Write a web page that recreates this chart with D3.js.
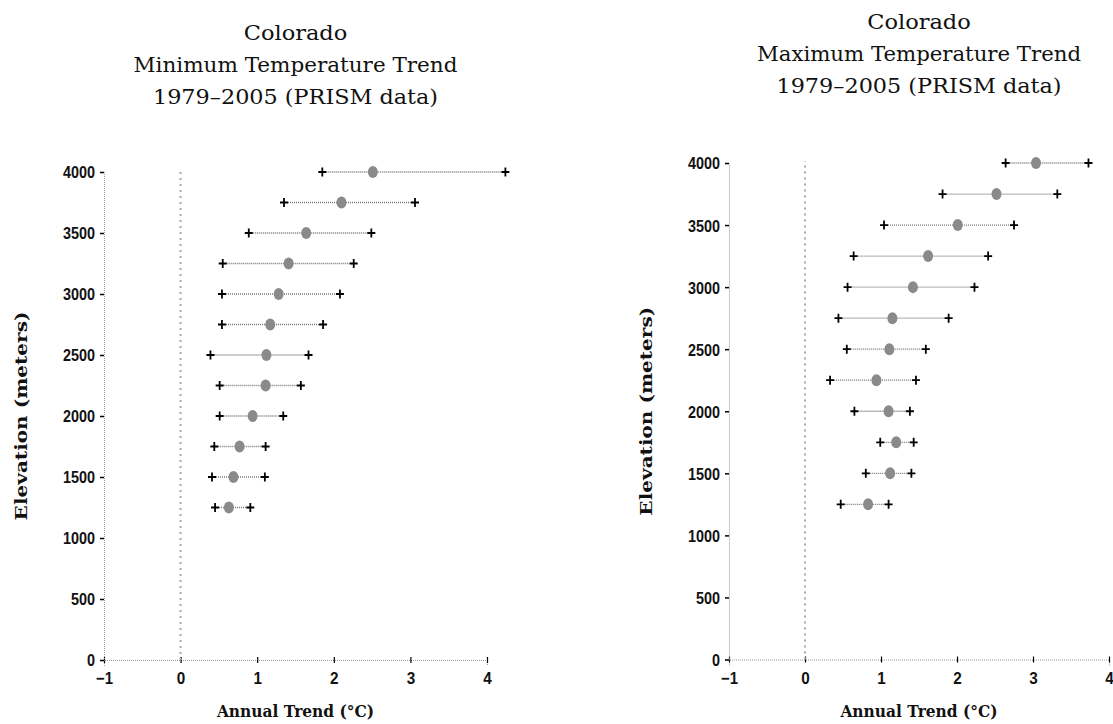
<!DOCTYPE html>
<html>
<head>
<meta charset="utf-8">
<script src="https://cdn.jsdelivr.net/npm/d3@7"></script>
<style>
    body { margin: 0; background: #fff; }
    svg { display: block; }
</style>
</head>
<body>
<svg></svg>
<script>
var elevations = [1250, 1500, 1750, 2000, 2250, 2500, 2750, 3000, 3250, 3500, 3750, 4000];
var minLow = [0.45, 0.41, 0.44, 0.51, 0.51, 0.39, 0.54, 0.54, 0.55, 0.89, 1.35, 1.85];
var minMid = [0.63, 0.69, 0.77, 0.94, 1.11, 1.12, 1.17, 1.28, 1.41, 1.64, 2.10, 2.51];
var minHigh = [0.91, 1.10, 1.11, 1.34, 1.57, 1.67, 1.86, 2.08, 2.26, 2.49, 3.06, 4.24];
var maxLow = [0.47, 0.80, 0.99, 0.65, 0.33, 0.55, 0.44, 0.56, 0.64, 1.04, 1.81, 2.64];
var maxMid = [0.83, 1.12, 1.20, 1.10, 0.94, 1.11, 1.15, 1.42, 1.62, 2.01, 2.52, 3.04];
var maxHigh = [1.10, 1.40, 1.43, 1.38, 1.46, 1.59, 1.89, 2.23, 2.41, 2.75, 3.32, 3.73];
var xTicks = [-1, 0, 1, 2, 3, 4];
var yTicks = [0, 500, 1000, 1500, 2000, 2500, 3000, 3500, 4000];
var minTitle = ["Colorado", "Minimum Temperature Trend", "1979\u20132005 (PRISM data)"];
var maxTitle = ["Colorado", "Maximum Temperature Trend", "1979\u20132005 (PRISM data)"];
var xLabel = "Annual Trend (\u00B0C)";
var yLabel = "Elevation (meters)";

var W = 1113, H = 724;
var SERIF = "'DejaVu Serif', 'Liberation Serif', serif";
var SANS = "'Liberation Sans', Arial, sans-serif";

var svg = d3.select("svg").attr("width", W).attr("height", H);

function drawPanel(p) {
    var x = d3.scaleLinear().domain([-1, 4]).range([p.x0, p.x1]);
    var y = d3.scaleLinear().domain([0, 4000]).range([p.y0, p.y1]);
    var g = svg.append("g");

    // title, three lines (typewriter look: fixed advance per char)
    p.title.forEach(function (t, i) {
        g.append("text")
            .attr("x", (p.x0 + p.x1) / 2)
            .attr("y", p.titleY + i * 32)
            .attr("text-anchor", "middle")
            .attr("font-family", SERIF)
            .attr("font-size", 21)
            .attr("textLength", t.length * 12.96)
            .attr("lengthAdjust", "spacingAndGlyphs")
            .attr("fill", "#111")
            .text(t);
    });

    // x axis
    var xa = g.append("g")
        .attr("transform", "translate(0," + p.y0 + ")")
        .call(d3.axisBottom(x).tickValues(xTicks).tickFormat(d3.format("d")));
    xa.select(".domain").attr("stroke", "#999").attr("stroke-dasharray", "1,1");
    xa.selectAll(".tick line").attr("y1", -3).attr("y2", 3).attr("stroke", "#000").attr("stroke-width", 1.2);
    xa.selectAll(".tick text")
        .attr("y", 24).attr("dy", 0)
        .attr("font-family", SANS).attr("font-size", 16.5).attr("font-weight", "bold")
        .attr("fill", "#111")
        .attr("textLength", function (d) { return String(d).length * 8.5; })
        .attr("lengthAdjust", "spacingAndGlyphs");

    // y axis
    var ya = g.append("g")
        .attr("transform", "translate(" + p.x0 + ",0)")
        .call(d3.axisLeft(y).tickValues(yTicks).tickSize(4).tickFormat(d3.format("d")));
    ya.select(".domain").attr("stroke", "#999").attr("stroke-dasharray", "1,1");
    ya.selectAll(".tick line").attr("stroke", "#000").attr("stroke-width", 1.5);
    ya.selectAll(".tick text")
        .attr("x", -9).attr("dy", "0.36em")
        .attr("font-family", SANS).attr("font-size", 16.5).attr("font-weight", "bold")
        .attr("fill", "#111")
        .attr("textLength", function (d) { return String(d).length * 8; })
        .attr("lengthAdjust", "spacingAndGlyphs");

    // zero reference line
    g.append("line")
        .attr("x1", x(0)).attr("x2", x(0))
        .attr("y1", y(0)).attr("y2", y(4000) - 2)
        .attr("stroke", "#aaa")
        .attr("stroke-width", 2)
        .attr("stroke-dasharray", "2,4");

    // axis labels
    g.append("text")
        .attr("x", (p.x0 + p.x1) / 2)
        .attr("y", 717)
        .attr("text-anchor", "middle")
        .attr("font-family", SERIF)
        .attr("font-size", 16.5)
        .attr("font-weight", "bold")
        .attr("textLength", xLabel.length * 9.25)
        .attr("lengthAdjust", "spacingAndGlyphs")
        .attr("fill", "#111")
        .text(xLabel);
    g.append("text")
        .attr("transform", "translate(" + (p.x0 - 77) + "," + ((p.y0 + p.y1) / 2) + ") rotate(-90)")
        .attr("text-anchor", "middle")
        .attr("font-family", SERIF)
        .attr("font-size", 16.5)
        .attr("font-weight", "bold")
        .attr("textLength", yLabel.length * 11.6)
        .attr("lengthAdjust", "spacingAndGlyphs")
        .attr("fill", "#111")
        .text(yLabel);

    var rows = elevations.map(function (e, i) {
        return { e: e, lo: p.lo[i], mid: p.mid[i], hi: p.hi[i] };
    });

    // dotted range lines
    g.selectAll(".rng").data(rows).enter().append("line")
        .attr("class", "rng")
        .attr("x1", function (d) { return x(d.lo); })
        .attr("x2", function (d) { return x(d.hi); })
        .attr("y1", function (d) { return y(d.e); })
        .attr("y2", function (d) { return y(d.e); })
        .attr("stroke", "#777")
        .attr("stroke-width", 1.3)
        .attr("stroke-dasharray", "1,1");

    // plus markers at both ends
    var ends = [];
    rows.forEach(function (d) {
        ends.push({ e: d.e, v: d.lo });
        ends.push({ e: d.e, v: d.hi });
    });
    g.selectAll(".end").data(ends).enter().append("path")
        .attr("class", "end")
        .attr("transform", function (d) { return "translate(" + x(d.v) + "," + y(d.e) + ")"; })
        .attr("d", "M-4,0H4M0,-4.5V4.5")
        .attr("stroke", "#000")
        .attr("stroke-width", 1.8)
        .attr("fill", "none");

    // trend points
    g.selectAll(".pt").data(rows).enter().append("ellipse")
        .attr("class", "pt")
        .attr("cx", function (d) { return x(d.mid); })
        .attr("cy", function (d) { return y(d.e); })
        .attr("rx", 5)
        .attr("ry", 6)
        .attr("fill", "#8a8a8a");
}

drawPanel({ x0: 104, x1: 487, y0: 660, y1: 172, titleY: 40, title: minTitle, lo: minLow, mid: minMid, hi: minHigh });
drawPanel({ x0: 729, x1: 1109, y0: 659.5, y1: 163, titleY: 29, title: maxTitle, lo: maxLow, mid: maxMid, hi: maxHigh });
</script>
</body>
</html>
